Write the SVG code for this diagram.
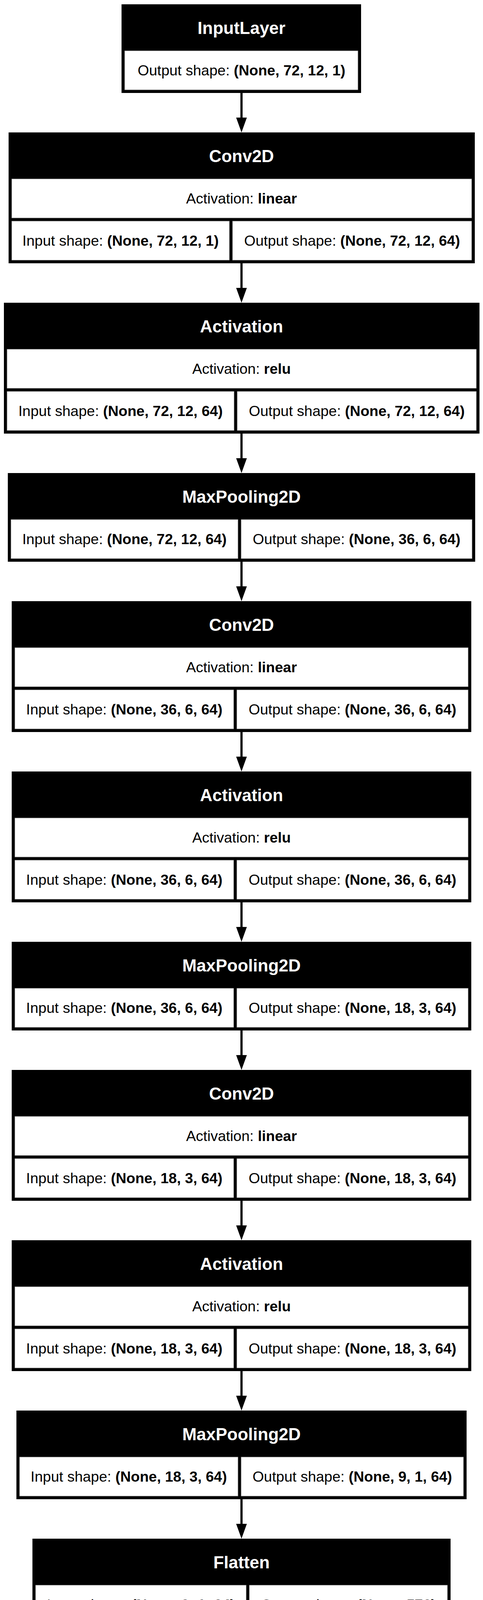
<svg xmlns="http://www.w3.org/2000/svg" width="1236" height="4942" viewBox="0 0 1236 4942">
<style>
.fr{fill:#000}
.cl{fill:#fff;stroke:#8a8a8a;stroke-width:1}
.hd{font-family:"Liberation Sans",Arial,Helvetica,sans-serif;font-weight:bold;font-size:44px;fill:#fff;text-anchor:middle}
.tx{font-family:"Liberation Sans",Arial,Helvetica,sans-serif;font-size:37.5px;fill:#000;text-anchor:middle}
.b{font-weight:bold}
.ln{stroke:#000;stroke-width:5.6;fill:none}
.ah{fill:#000}
</style>
<rect width="1236" height="4942" fill="#fff"/>
<g id="connectors">
<line class="ln" x1="618" y1="238" x2="618" y2="302"/><polygon class="ah" points="604.3,301 631.7,301 618,339"/>
<line class="ln" x1="618" y1="674" x2="618" y2="738"/><polygon class="ah" points="604.3,737 631.7,737 618,775"/>
<line class="ln" x1="618" y1="1110" x2="618" y2="1174"/><polygon class="ah" points="604.3,1173 631.7,1173 618,1211"/>
<line class="ln" x1="618" y1="1438" x2="618" y2="1502"/><polygon class="ah" points="604.3,1501 631.7,1501 618,1539"/>
<line class="ln" x1="618" y1="1874" x2="618" y2="1938"/><polygon class="ah" points="604.3,1937 631.7,1937 618,1975"/>
<line class="ln" x1="618" y1="2310" x2="618" y2="2374"/><polygon class="ah" points="604.3,2373 631.7,2373 618,2411"/>
<line class="ln" x1="618" y1="2638" x2="618" y2="2702"/><polygon class="ah" points="604.3,2701 631.7,2701 618,2739"/>
<line class="ln" x1="618" y1="3074" x2="618" y2="3138"/><polygon class="ah" points="604.3,3137 631.7,3137 618,3175"/>
<line class="ln" x1="618" y1="3510" x2="618" y2="3574"/><polygon class="ah" points="604.3,3573 631.7,3573 618,3611"/>
<line class="ln" x1="618" y1="3838" x2="618" y2="3902"/><polygon class="ah" points="604.3,3901 631.7,3901 618,3939"/>
<line class="ln" x1="618" y1="4166" x2="618" y2="4230"/><polygon class="ah" points="604.3,4229 631.7,4229 618,4267"/>
<line class="ln" x1="618" y1="4494" x2="618" y2="4558"/><polygon class="ah" points="604.3,4557 631.7,4557 618,4595"/>
</g>

<g id="input_layer">
<rect class="fr" x="311" y="11" width="613" height="227"/>
<text class="hd" x="618" y="87">InputLayer</text>
<rect class="cl" x="319" y="130" width="597" height="100"/>
<text class="tx" x="618" y="193">Output shape: <tspan class="b">(None, 72, 12, 1)</tspan></text>
</g>

<g id="conv2d_1">
<rect class="fr" x="22" y="339" width="1193" height="335"/>
<text class="hd" x="618" y="415">Conv2D</text>
<rect class="cl" x="30" y="458" width="1177" height="100"/>
<text class="tx" x="618" y="521">Activation: <tspan class="b">linear</tspan></text>
<rect class="cl" x="30" y="566" width="557" height="100"/>
<rect class="cl" x="595" y="566" width="612" height="100"/>
<text class="tx" x="308.5" y="629">Input shape: <tspan class="b">(None, 72, 12, 1)</tspan></text>
<text class="tx" x="901" y="629">Output shape: <tspan class="b">(None, 72, 12, 64)</tspan></text>
</g>

<g id="activation_1">
<rect class="fr" x="10" y="775" width="1217" height="335"/>
<text class="hd" x="618" y="851">Activation</text>
<rect class="cl" x="18" y="894" width="1201" height="100"/>
<text class="tx" x="618" y="957">Activation: <tspan class="b">relu</tspan></text>
<rect class="cl" x="18" y="1002" width="581" height="100"/>
<rect class="cl" x="607" y="1002" width="612" height="100"/>
<text class="tx" x="308.5" y="1065">Input shape: <tspan class="b">(None, 72, 12, 64)</tspan></text>
<text class="tx" x="913" y="1065">Output shape: <tspan class="b">(None, 72, 12, 64)</tspan></text>
</g>

<g id="max_pooling2d_1">
<rect class="fr" x="20" y="1211" width="1196" height="227"/>
<text class="hd" x="618" y="1287">MaxPooling2D</text>
<rect class="cl" x="28" y="1330" width="581" height="100"/>
<rect class="cl" x="617" y="1330" width="591" height="100"/>
<text class="tx" x="318.5" y="1393">Input shape: <tspan class="b">(None, 72, 12, 64)</tspan></text>
<text class="tx" x="912.5" y="1393">Output shape: <tspan class="b">(None, 36, 6, 64)</tspan></text>
</g>

<g id="conv2d_2">
<rect class="fr" x="30" y="1539" width="1176" height="335"/>
<text class="hd" x="618" y="1615">Conv2D</text>
<rect class="cl" x="38" y="1658" width="1160" height="100"/>
<text class="tx" x="618" y="1721">Activation: <tspan class="b">linear</tspan></text>
<rect class="cl" x="38" y="1766" width="560" height="100"/>
<rect class="cl" x="606" y="1766" width="592" height="100"/>
<text class="tx" x="318" y="1829">Input shape: <tspan class="b">(None, 36, 6, 64)</tspan></text>
<text class="tx" x="902" y="1829">Output shape: <tspan class="b">(None, 36, 6, 64)</tspan></text>
</g>

<g id="activation_2">
<rect class="fr" x="30" y="1975" width="1176" height="335"/>
<text class="hd" x="618" y="2051">Activation</text>
<rect class="cl" x="38" y="2094" width="1160" height="100"/>
<text class="tx" x="618" y="2157">Activation: <tspan class="b">relu</tspan></text>
<rect class="cl" x="38" y="2202" width="560" height="100"/>
<rect class="cl" x="606" y="2202" width="592" height="100"/>
<text class="tx" x="318" y="2265">Input shape: <tspan class="b">(None, 36, 6, 64)</tspan></text>
<text class="tx" x="902" y="2265">Output shape: <tspan class="b">(None, 36, 6, 64)</tspan></text>
</g>

<g id="max_pooling2d_2">
<rect class="fr" x="30" y="2411" width="1176" height="227"/>
<text class="hd" x="618" y="2487">MaxPooling2D</text>
<rect class="cl" x="38" y="2530" width="560" height="100"/>
<rect class="cl" x="606" y="2530" width="592" height="100"/>
<text class="tx" x="318" y="2593">Input shape: <tspan class="b">(None, 36, 6, 64)</tspan></text>
<text class="tx" x="902" y="2593">Output shape: <tspan class="b">(None, 18, 3, 64)</tspan></text>
</g>

<g id="conv2d_3">
<rect class="fr" x="30" y="2739" width="1176" height="335"/>
<text class="hd" x="618" y="2815">Conv2D</text>
<rect class="cl" x="38" y="2858" width="1160" height="100"/>
<text class="tx" x="618" y="2921">Activation: <tspan class="b">linear</tspan></text>
<rect class="cl" x="38" y="2966" width="560" height="100"/>
<rect class="cl" x="606" y="2966" width="592" height="100"/>
<text class="tx" x="318" y="3029">Input shape: <tspan class="b">(None, 18, 3, 64)</tspan></text>
<text class="tx" x="902" y="3029">Output shape: <tspan class="b">(None, 18, 3, 64)</tspan></text>
</g>

<g id="activation_3">
<rect class="fr" x="30" y="3175" width="1176" height="335"/>
<text class="hd" x="618" y="3251">Activation</text>
<rect class="cl" x="38" y="3294" width="1160" height="100"/>
<text class="tx" x="618" y="3357">Activation: <tspan class="b">relu</tspan></text>
<rect class="cl" x="38" y="3402" width="560" height="100"/>
<rect class="cl" x="606" y="3402" width="592" height="100"/>
<text class="tx" x="318" y="3465">Input shape: <tspan class="b">(None, 18, 3, 64)</tspan></text>
<text class="tx" x="902" y="3465">Output shape: <tspan class="b">(None, 18, 3, 64)</tspan></text>
</g>

<g id="max_pooling2d_3">
<rect class="fr" x="42" y="3611" width="1152" height="227"/>
<text class="hd" x="618" y="3687">MaxPooling2D</text>
<rect class="cl" x="50" y="3730" width="559" height="100"/>
<rect class="cl" x="617" y="3730" width="569" height="100"/>
<text class="tx" x="329.5" y="3793">Input shape: <tspan class="b">(None, 18, 3, 64)</tspan></text>
<text class="tx" x="901.5" y="3793">Output shape: <tspan class="b">(None, 9, 1, 64)</tspan></text>
</g>

<g id="flatten">
<rect class="fr" x="83" y="3939" width="1070" height="227"/>
<text class="hd" x="618" y="4015">Flatten</text>
<rect class="cl" x="91" y="4058" width="539" height="100"/>
<rect class="cl" x="638" y="4058" width="507" height="100"/>
<text class="tx" x="360.5" y="4121">Input shape: <tspan class="b">(None, 9, 1, 64)</tspan></text>
<text class="tx" x="891.5" y="4121">Output shape: <tspan class="b">(None, 576)</tspan></text>
</g>

<g id="reshape">
<rect class="fr" x="93" y="4267" width="1050" height="227"/>
<text class="hd" x="618" y="4343">Reshape</text>
<rect class="cl" x="101" y="4386" width="477" height="100"/>
<rect class="cl" x="586" y="4386" width="549" height="100"/>
<text class="tx" x="339.5" y="4449">Input shape: <tspan class="b">(None, 576)</tspan></text>
<text class="tx" x="860.5" y="4449">Output shape: <tspan class="b">(None, 1, 576)</tspan></text>
</g>

<g id="dense">
<rect class="fr" x="93" y="4595" width="1050" height="335"/>
<text class="hd" x="618" y="4671">Dense</text>
<rect class="cl" x="101" y="4714" width="1034" height="100"/>
<text class="tx" x="618" y="4777">Activation: <tspan class="b">sigmoid</tspan></text>
<rect class="cl" x="101" y="4822" width="519" height="100"/>
<rect class="cl" x="628" y="4822" width="507" height="100"/>
<text class="tx" x="360.5" y="4885">Input shape: <tspan class="b">(None, 1, 576)</tspan></text>
<text class="tx" x="881.5" y="4885">Output shape: <tspan class="b">(None, 1, 1)</tspan></text>
</g>
</svg>
